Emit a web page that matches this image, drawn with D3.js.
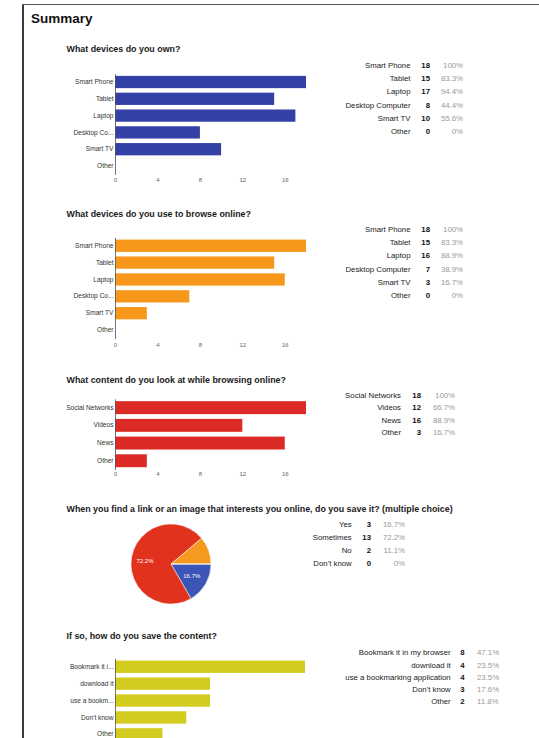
<!DOCTYPE html>
<html><head><meta charset="utf-8">
<script src="https://cdn.jsdelivr.net/npm/d3@7"></script>
<style>
html,body{margin:0;padding:0;background:#fff;}
svg{display:block;font-family:"Liberation Sans",Arial,Helvetica,sans-serif;}
</style></head>
<body>
<script>
// ---- data ----
const ownLabels = ["Smart Phone","Tablet","Laptop","Desktop Co...","Smart TV","Other"];
const ownLegend = ["Smart Phone","Tablet","Laptop","Desktop Computer","Smart TV","Other"];
const ownValues = [18,15,17,8,10,0];
const ownPct = ["100%","83.3%","94.4%","44.4%","55.6%","0%"];

const browseLabels = ["Smart Phone","Tablet","Laptop","Desktop Co...","Smart TV","Other"];
const browseLegend = ["Smart Phone","Tablet","Laptop","Desktop Computer","Smart TV","Other"];
const browseValues = [18,15,16,7,3,0];
const browsePct = ["100%","83.3%","88.9%","38.9%","16.7%","0%"];

const contentLabels = ["Social Networks","Videos","News","Other"];
const contentValues = [18,12,16,3];
const contentPct = ["100%","66.7%","88.9%","16.7%"];

const saveLabels = ["Yes","Sometimes","No","Don't know"];
const saveValues = [3,13,2,0];
const savePct = ["16.7%","72.2%","11.1%","0%"];
const saveColors = ["#3a55b5","#e0321c","#f59a1f","#2e9a4a"];

const howLabels = ["Bookmark it i...","download it","use a bookm...","Don't know","Other"];
const howLegend = ["Bookmark it in my browser","download it","use a bookmarking application","Don't know","Other"];
const howValues = [8,4,4,3,2];
const howPct = ["47.1%","23.5%","23.5%","17.6%","11.8%"];

const axisTicks = [0,4,8,12,16];

// ---- drawing ----
const W = 539, H = 738;
const svg = d3.select("body").append("svg").attr("width", W).attr("height", H);

// frame
svg.append("line").attr("x1",23).attr("x2",23).attr("y1",4).attr("y2",H).attr("stroke","#3a3a3a").attr("stroke-width",2);
svg.append("line").attr("x1",22).attr("x2",W).attr("y1",4.5).attr("y2",4.5).attr("stroke","#555").attr("stroke-width",1.2);

svg.append("text").attr("x",31).attr("y",22.5).attr("font-size","13.5px").attr("font-weight","bold").attr("fill","#111").text("Summary");

function title(t, y){
  svg.append("text").attr("x",66.5).attr("y",y).attr("font-size","8.9px").attr("font-weight","bold").attr("fill","#1a1a1a").text(t);
}

function barChart(opts){
  const g = svg.append("g");
  const x = d3.scaleLinear().domain([0, opts.max]).range([115, opts.xEnd]);
  const y = d3.scaleBand().domain(opts.labels).range(opts.yRange).paddingInner(opts.pad).paddingOuter(opts.pad/2);
  g.selectAll("rect").data(opts.values).join("rect")
    .attr("x", x(0)).attr("y", (d,i)=>y(opts.labels[i]))
    .attr("width", d=>x(d)-x(0)).attr("height", y.bandwidth())
    .attr("fill", opts.color);
  const ya = g.append("g").attr("transform",`translate(${x(0)},0)`)
    .call(d3.axisLeft(y).tickSize(0).tickPadding(1.5));
  ya.select(".domain").attr("stroke","#555").attr("stroke-width",0.8);
  ya.selectAll("text").attr("font-size","6.6px").attr("fill","#333").attr("font-family","Liberation Sans, Arial, sans-serif");
  if (opts.tickY !== undefined){
    const xa = g.append("g").attr("transform",`translate(0,${opts.tickY})`)
      .call(d3.axisBottom(x).tickValues(opts.ticks).tickSize(0).tickPadding(0));
    xa.select(".domain").remove();
    xa.selectAll("text").attr("font-size","6px").attr("fill","#666").attr("font-family","Liberation Sans, Arial, sans-serif");
  }
}

function legend(o){
  const g = svg.append("g").attr("font-size","7.8px");
  o.labels.forEach((l,i)=>{
    const yy = o.y0 + i*o.dy;
    g.append("text").attr("x",o.lx).attr("y",yy).attr("text-anchor","end").attr("fill","#222").text(l);
    g.append("text").attr("x",o.cx).attr("y",yy).attr("text-anchor","end").attr("font-weight","bold").attr("fill","#111").text(o.values[i]);
    g.append("text").attr("x",o.px).attr("y",yy).attr("text-anchor",o.pAnchor||"end").attr("fill","#999").text(o.pct[i]);
  });
}

// chart 1
title("What devices do you own?", 52);
barChart({labels: ownLabels, values: ownValues, max:18, xEnd:306, yRange:[73.6,174.4], pad:0.27, color:"#3341a6", tickY:177.5, ticks:axisTicks});
legend({labels: ownLegend, values: ownValues, pct: ownPct, y0:68, dy:13.2, lx:410.5, cx:430, px:463});

// chart 2
title("What devices do you use to browse online?", 217);
barChart({labels: browseLabels, values: browseValues, max:18, xEnd:306, yRange:[237.3,338.5], pad:0.27, color:"#f7981d", tickY:342.5, ticks:axisTicks});
legend({labels: browseLegend, values: browseValues, pct: browsePct, y0:232, dy:13.2, lx:410.5, cx:430, px:463});

// chart 3
title("What content do you look at while browsing online?", 383);
barChart({labels: contentLabels, values: contentValues, max:18, xEnd:306, yRange:[398.8,469.6], pad:0.27, color:"#dc2a26", tickY:471.5, ticks:axisTicks});
legend({labels: contentLabels, values: contentValues, pct: contentPct, y0:397.8, dy:12.4, lx:401, cx:421, px:455});

// chart 4 (pie)
title("When you find a link or an image that interests you online, do you save it? (multiple choice)", 511.5);
const pie = d3.pie().sort(null).value(d=>d).startAngle(Math.PI/2).endAngle(Math.PI/2 + 2*Math.PI);
const arcs = pie(saveValues);
const arc = d3.arc().innerRadius(0).outerRadius(40);
const pg = svg.append("g").attr("transform","translate(171,564)");
pg.selectAll("path").data(arcs).join("path").attr("d",arc).attr("fill",(d,i)=>saveColors[i]).attr("stroke","#fff").attr("stroke-width",0.5);
const labelArc = d3.arc().innerRadius(24).outerRadius(24);
pg.selectAll("text").data(arcs.filter(a=>a.data/ d3.sum(saveValues) > 0.15)).join("text")
  .attr("transform",(d)=>{
    const i = arcs.indexOf(d);
    const c = i===1 ? [-26,-3] : labelArc.centroid(d);
    return `translate(${c[0]},${c[1]})`;
  })
  .attr("text-anchor","middle").attr("dominant-baseline","middle")
  .attr("font-size","6px").attr("fill","#fff")
  .text(d=>savePct[arcs.indexOf(d)]);
legend({labels: saveLabels, values: saveValues, pct: savePct, y0:527, dy:13, lx:351.7, cx:371, px:405});

// chart 5
title("If so, how do you save the content?", 639);
barChart({labels: howLabels, values: howValues, max:8, xEnd:305, yRange:[658.3,742.8], pad:0.27, color:"#d4cb1f"});
legend({labels: howLegend, values: howValues, pct: howPct, y0:655.2, dy:12.3, lx:450.7, cx:464.7, px:477, pAnchor:"start"});
</script>
</body></html>
